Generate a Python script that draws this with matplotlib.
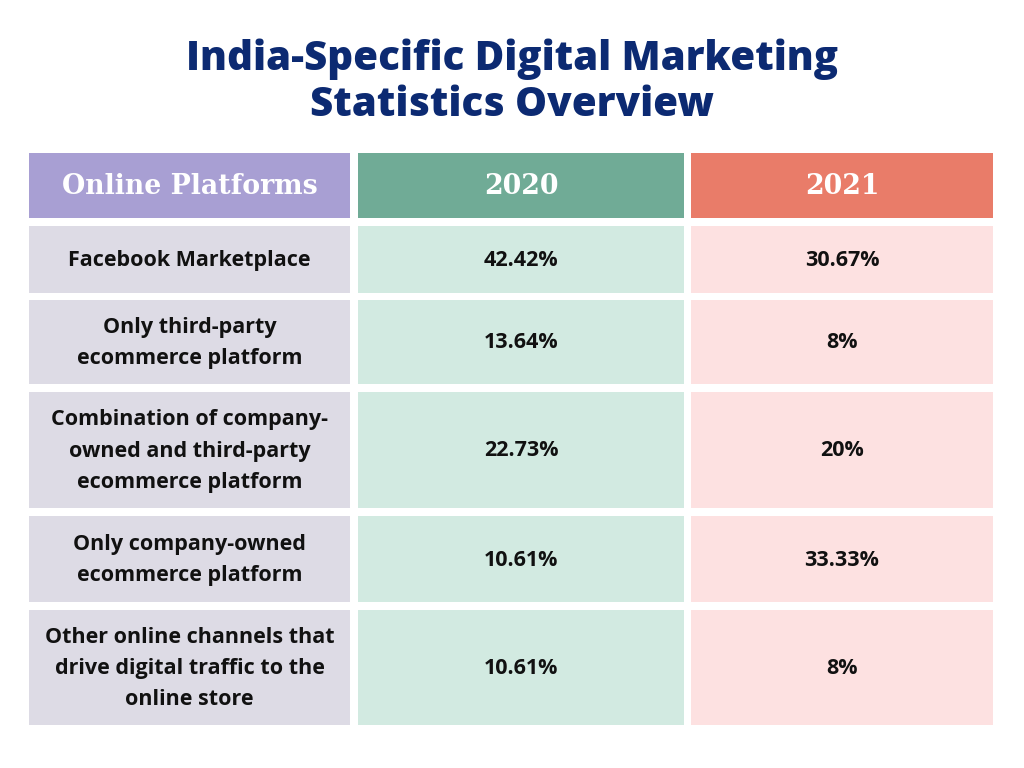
import matplotlib
matplotlib.use("Agg")
import matplotlib.pyplot as plt
from matplotlib.patches import Rectangle

title = "India-Specific Digital Marketing\nStatistics Overview"
headers = ["Online Platforms", "2020", "2021"]
platforms = [
    "Facebook Marketplace",
    "Only third-party\necommerce platform",
    "Combination of company-\nowned and third-party\necommerce platform",
    "Only company-owned\necommerce platform",
    "Other online channels that\ndrive digital traffic to the\nonline store",
]
values_2020 = ["42.42%", "13.64%", "22.73%", "10.61%", "10.61%"]
values_2021 = ["30.67%", "8%", "20%", "33.33%", "8%"]

# layout (pixels)
col_edges = [(29, 350), (358, 684), (691, 993)]
header_box = (153, 218)
row_boxes = [(226, 293), (300, 384), (392, 508), (516, 602), (610, 725)]
header_colors = ["#a89fd3", "#70ab96", "#e97c69"]
body_colors = ["#dddbe5", "#d2eae1", "#fde1e1"]

fig = plt.figure(figsize=(10.24, 7.68), dpi=100)
ax = fig.add_axes([0, 0, 1, 1])
ax.set_xlim(0, 1024)
ax.set_ylim(768, 0)
ax.axis("off")

fig.text(0.5, 1 - 82 / 768, title, ha="center", va="center",
         fontsize=29, fontfamily="Open Sans", fontweight="heavy",
         color="#0c2a72", linespacing=1.17)

for (x0, x1), h, c in zip(col_edges, headers, header_colors):
    y0, y1 = header_box
    ax.add_patch(Rectangle((x0, y0), x1 - x0, y1 - y0, facecolor=c, edgecolor="none"))
    ax.text((x0 + x1) / 2, (y0 + y1) / 2 + 1, h, ha="center", va="center",
            fontsize=19.3, fontfamily="DejaVu Serif", fontweight="bold", color="white")

columns = [platforms, values_2020, values_2021]
for ci, ((x0, x1), col, c) in enumerate(zip(col_edges, columns, body_colors)):
    for (y0, y1), txt in zip(row_boxes, col):
        ax.add_patch(Rectangle((x0, y0), x1 - x0, y1 - y0, facecolor=c, edgecolor="none"))
        ax.text((x0 + x1) / 2, (y0 + y1) / 2 + 1, txt, ha="center", va="center",
                fontsize=15.5, fontfamily="Open Sans", fontweight="bold", color="#111111",
                linespacing=1.65)

fig.savefig("out.png", dpi=100, facecolor="white")
